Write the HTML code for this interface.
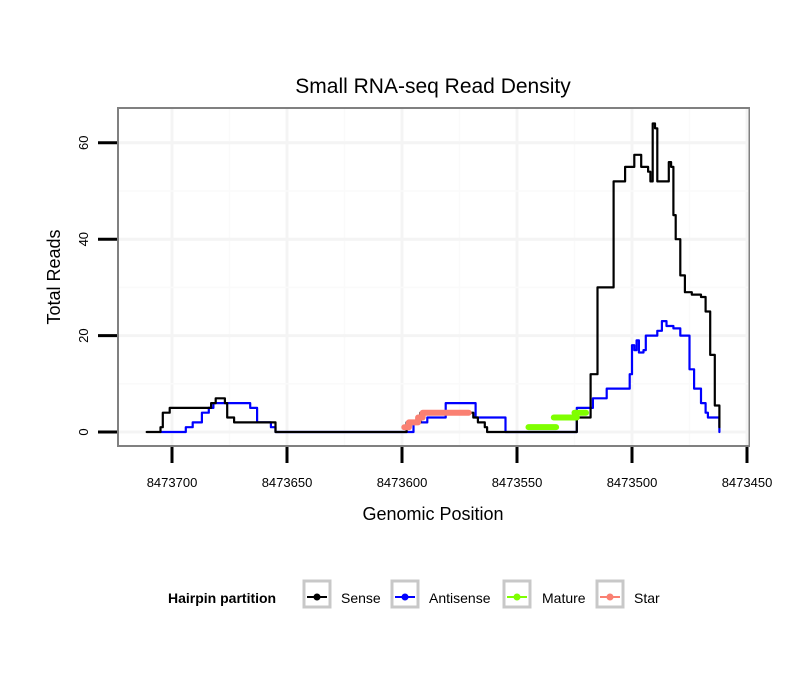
<!DOCTYPE html>
<html><head><meta charset="utf-8"><style>
body{margin:0;background:#fff;}
svg{display:block;font-family:"Liberation Sans",sans-serif;}
</style></head><body>
<svg id="chart" width="810" height="690">
<text x="433" y="93" text-anchor="middle" font-size="21">Small RNA-seq Read Density</text>
<rect x="118" y="108" width="631" height="338" fill="#fff" stroke="#808080" stroke-width="2"/>
<g id="grid"></g>
<g id="series"></g>
<g id="axes"></g>
<text x="433" y="520" text-anchor="middle" font-size="18">Genomic Position</text>
<text transform="translate(60,277) rotate(-90)" text-anchor="middle" font-size="18">Total Reads</text>
<g>
<text x="168" y="603" font-size="14" font-weight="bold">Hairpin partition</text>
<g><rect x="304" y="581" width="26" height="26" fill="#fff" stroke="#c8c8c8" stroke-width="3"/><line x1="307" y1="597" x2="327" y2="597" stroke="#000" stroke-width="2"/><circle cx="317" cy="597" r="3.5" fill="#000"/><text x="341" y="603" font-size="14">Sense</text></g>
<g><rect x="392" y="581" width="26" height="26" fill="#fff" stroke="#c8c8c8" stroke-width="3"/><line x1="395" y1="597" x2="415" y2="597" stroke="#0000ff" stroke-width="2"/><circle cx="405" cy="597" r="3.5" fill="#0000ff"/><text x="429" y="603" font-size="14">Antisense</text></g>
<g><rect x="504" y="581" width="26" height="26" fill="#fff" stroke="#c8c8c8" stroke-width="3"/><line x1="507" y1="597" x2="527" y2="597" stroke="#7fff00" stroke-width="2"/><circle cx="517" cy="597" r="3.5" fill="#7fff00"/><text x="542" y="603" font-size="14">Mature</text></g>
<g><rect x="597" y="581" width="26" height="26" fill="#fff" stroke="#c8c8c8" stroke-width="3"/><line x1="600" y1="597" x2="620" y2="597" stroke="#fa8072" stroke-width="2"/><circle cx="610" cy="597" r="3.5" fill="#fa8072"/><text x="634" y="603" font-size="14">Star</text></g>
</g>
</svg>
<script>
const xTicks=[8473700,8473650,8473600,8473550,8473500,8473450];
const yTicks=[0,20,40,60];
const sensePos=[8473711,8473705,8473704,8473701,8473684,8473683,8473681,8473679,8473677,8473676,8473673,8473657,8473655,8473599,8473598,8473592,8473571,8473569,8473567,8473564,8473563,8473526,8473524,8473520,8473518,8473515,8473510,8473508,8473505,8473503,8473499,8473496,8473493,8473492,8473491,8473490,8473489,8473486,8473484,8473483,8473482,8473481,8473479,8473477,8473474,8473470,8473468,8473466,8473464,8473462];
const senseVal=[0,1,4,5,5,6,7,7,6,3,2,2,0,0,2,4,4,3,2,1,0,0,3,3,12,30,30,52,52,55,57.5,55,54,52,64,63,52,52,56,55,45,40,32.5,29,28.5,28,25,16,5.5,1];
const antiPos=[8473705,8473695,8473694,8473691,8473687,8473684,8473682,8473667,8473666,8473663,8473657,8473655,8473600,8473595,8473589,8473581,8473570,8473568,8473557,8473555,8473526,8473524,8473520,8473517,8473513,8473511,8473503,8473501,8473500,8473499,8473498,8473497,8473495,8473494,8473491,8473489,8473487,8473485,8473482,8473479,8473477,8473475,8473473,8473470,8473468,8473467,8473464,8473462];
const antiVal=[0,0,1,2,4,5,6,6,5,2,1,0,0,2,3,6,6,3,3,0,0,5,5,7,7,9,9,12,18,17,19,16.5,17,20,20,21,23,22,21.5,20,20,13,9,6,4,3,3,0];
const matureStart=[8473545,8473534,8473525];
const matureEnd=[8473533,8473524,8473520];
const matureVal=[1,3,4];
const starPos=[8473599,8473597,8473593,8473591,8473571];
const starVal=[1,2,3,4,4];

const NS='http://www.w3.org/2000/svg';
const xS=p=>172+(8473700-p)*2.3;
const yS=v=>432-v*4.82;
function mk(tag,attrs,parent){const e=document.createElementNS(NS,tag);for(const k in attrs)e.setAttribute(k,attrs[k]);parent.appendChild(e);return e;}
const grid=document.getElementById('grid'),ser=document.getElementById('series'),ax=document.getElementById('axes');
xTicks.forEach((t,i)=>{
  const g=mk('line',{x1:xS(t),x2:xS(t),y1:109,y2:445,stroke:'#f4f4f4','stroke-width':3},grid);
  
  
  const m=xS(t-25);
  if(m<748){const gm=mk('line',{x1:m,x2:m,y1:109,y2:445,stroke:'#fafafa','stroke-width':1.5},grid);
  
  }
  const tk=mk('line',{x1:xS(t),x2:xS(t),y1:447,y2:463,stroke:'#000','stroke-width':3},ax);
  
  
  const tx=mk('text',{x:xS(t),y:487,'text-anchor':'middle','font-size':13},ax);tx.textContent=t;
  
  
});
yTicks.forEach((t,i)=>{
  const g=mk('line',{x1:119,x2:748,y1:yS(t),y2:yS(t),stroke:'#f4f4f4','stroke-width':3},grid);
  
  
  const m=yS(t+10);
  if(m>110){const gm=mk('line',{x1:119,x2:748,y1:m,y2:m,stroke:'#fafafa','stroke-width':1.5},grid);
  
  }
  const tk=mk('line',{x1:98,x2:117,y1:yS(t),y2:yS(t),stroke:'#000','stroke-width':3},ax);
  
  
  const tx=mk('text',{transform:`translate(88,${yS(t)}) rotate(-90)`,'text-anchor':'middle','font-size':13},ax);tx.textContent=t;
  
  
});
function path(pos,val,color,w,name){
  let d='M'+xS(pos[0]).toFixed(1)+','+yS(val[0]).toFixed(1);
  for(let i=1;i<pos.length;i++){
    d+='H'+xS(pos[i]).toFixed(1)+'V'+yS(val[i]).toFixed(1);
  }
  const e=mk('path',{d:d,fill:'none',stroke:color,'stroke-width':w,'stroke-linejoin':'round','stroke-linecap':'round'},ser);
  
  
}
path(antiPos,antiVal,'#0000ff',2.2,'antisense-line');
path(sensePos,senseVal,'#000',2.2,'sense-line');
path(starPos,starVal,'#fa8072',6,'star-line');
matureVal.forEach((v,i)=>{
  const e=mk('line',{x1:xS(matureStart[i]),x2:xS(matureEnd[i]),y1:yS(v),y2:yS(v),stroke:'#7fff00','stroke-width':6,'stroke-linecap':'round'},ser);
  
  
});
</script>
</body></html>
